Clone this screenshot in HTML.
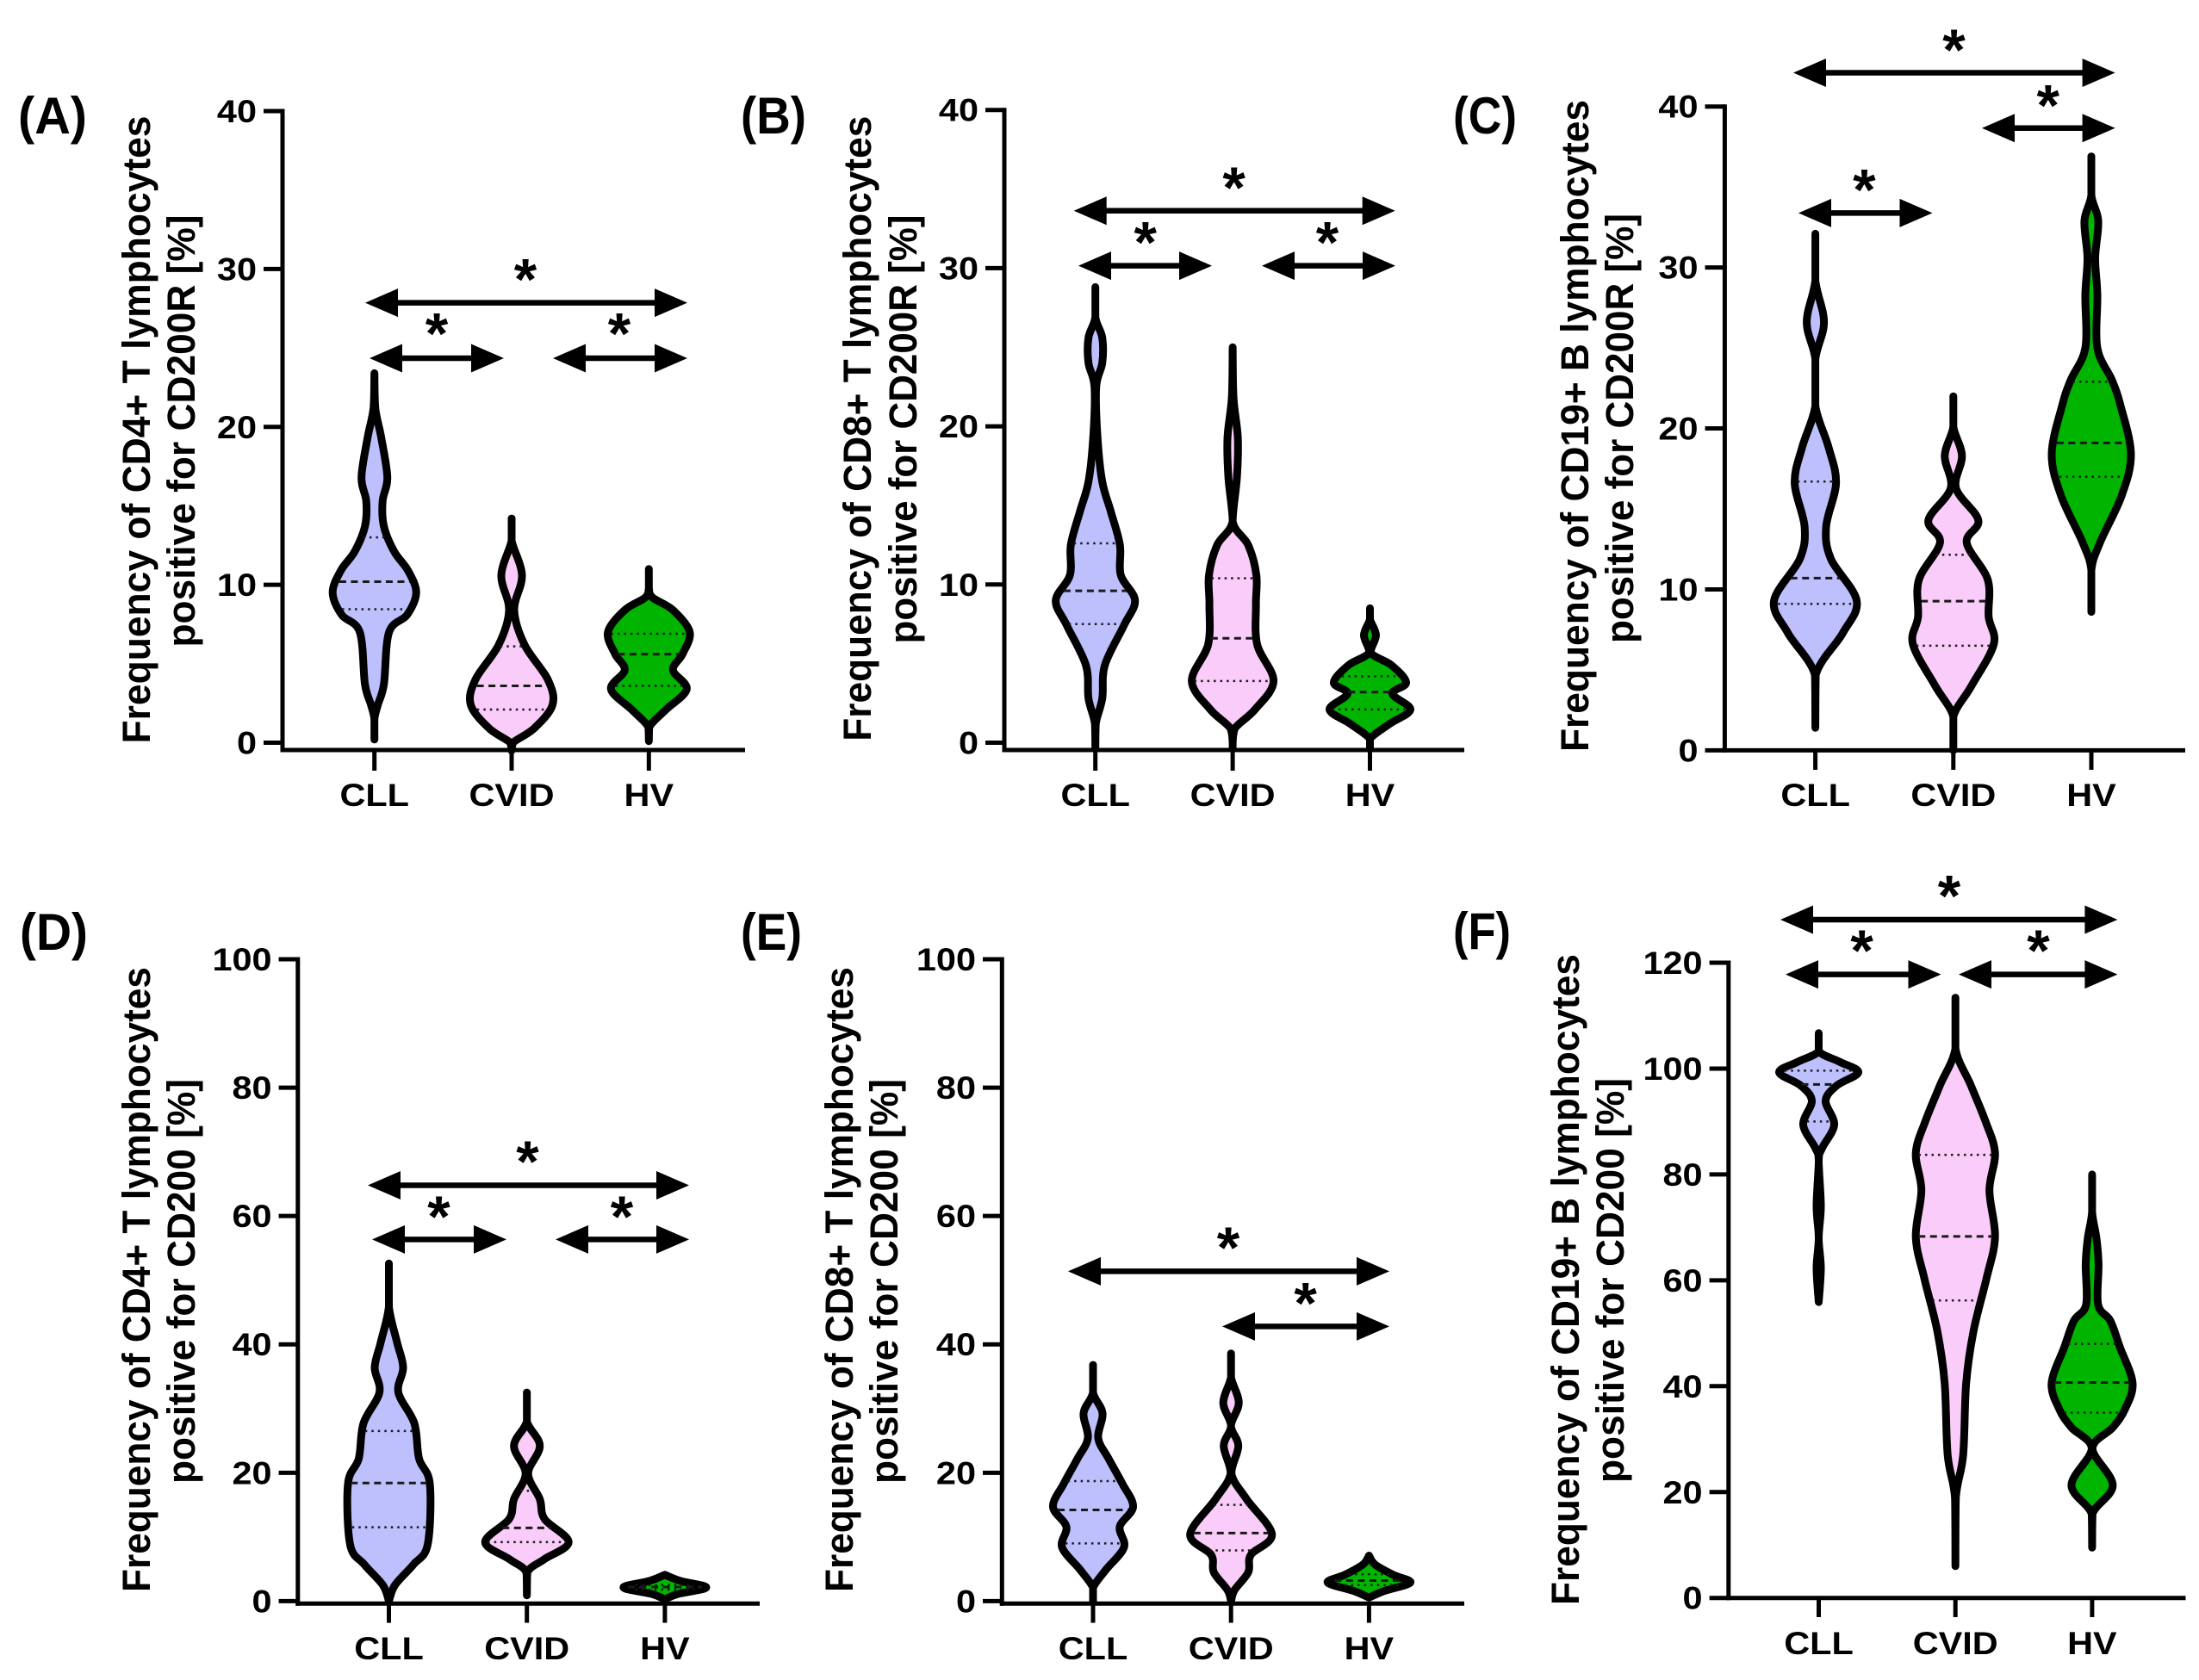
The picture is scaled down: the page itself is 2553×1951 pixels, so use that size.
<!DOCTYPE html>
<html lang="en">
<head>
<meta charset="utf-8">
<title>CD200R and CD200 frequency violin plots</title>
<style>
html,body{margin:0;padding:0;background:#fff;}
svg{display:block;}
text{font-family:"Liberation Sans",Arial,sans-serif;font-weight:bold;fill:#000;}
</style>
</head>
<body>
<svg id="figure" xmlns="http://www.w3.org/2000/svg" width="2553" height="1951" viewBox="0 0 2553 1951"></svg>
<script>
// ---- Shared categories and tick labels ----
const categories = ['CLL', 'CVID', 'HV'];
const ticks40 = [0, 10, 20, 30, 40];
const ticks100 = [0, 20, 40, 60, 80, 100];
const ticks120 = [0, 20, 40, 60, 80, 100, 120];

// ---- Panel A ----
const aCLL_values = [23.4,21.2,19.3,16.8,15.3,13.7,12.1,10.9,9.5,8.1,7,3.7,2.4,1.5,0.2];
const aCLL_density = [0,2,16,30,19,22,46,78,97,76,34,22,8,0,0];
const aCLL_quartiles = [8.45,10.2,13];
const aCVID_values = [14.2,12.8,10.6,8.4,6.2,4,2.4,0.9,0,-0.5];
const aCVID_density = [0,0,24,6,30,84,95,52,3,0];
const aCVID_quartiles = [2.1,3.6,6.1];
const aHV_values = [11,9.8,9.2,8.4,7,5.6,4.6,3.4,2.1,1,0.1];
const aHV_density = [0,0,8,56,95,78,56,88,40,1,0];
const aHV_quartiles = [3.6,5.6,6.9];

// ---- Panel B ----
const bCLL_values = [28.8,26.9,25.6,24,22.5,19.3,16.5,14.6,12.5,10.6,9,7.4,4.9,2.8,1.2,-0.4];
const bCLL_density = [0,0,16,16,2,5,16,36,57,59,92,66,22,16,1,0];
const bCLL_quartiles = [7.5,9.6,12.6];
const bCVID_values = [25,21.8,19.3,16.8,14,12.5,10.6,8.7,6.2,3.9,2.1,0.9,0,-0.4];
const bCVID_density = [0,2,12,10,0,36,55,54,57,95,52,5,0,0];
const bCVID_quartiles = [3.9,6.6,10.4];
const bHV_values = [8.5,7.8,6.8,5.7,4.9,3.8,3.1,2.1,1.2,0.25,-0.4];
const bHV_density = [0,0,14,2,50,84,52,94,46,0,0];
const bHV_quartiles = [2.1,3.2,4.2];

// ---- Panel C ----
const cCLL_values = [32.1,29.2,26.6,24.3,21.4,18.8,16.6,13.9,11.9,9.3,7.3,4.7,1.4];
const cCLL_density = [0,0,20,0,0,31,48,25,36,96,64,1,0];
const cCLL_quartiles = [9.1,10.7,16.7];
const cCVID_values = [22,20.1,18.3,16.3,14.3,12.9,10.6,8.3,6.6,4,2.1,0];
const cCVID_density = [0,0,20,6,58,31,80,82,94,42,0,0];
const cCVID_quartiles = [6.5,9.27,12.15];
const cHV_values = [36.9,34.5,32.9,30.6,28.3,25,23,21.4,18.4,15.8,12.9,11.2,8.6];
const cHV_density = [0,0,16,9,14,14,48,68,92,70,20,0,0];
const cHV_quartiles = [17,19.1,22.9];

// ---- Panel D ----
const dCLL_values = [52.6,45.9,40.3,36.4,32.5,27.7,22.2,18.3,8.8,5.7,2.5,0];
const dCLL_density = [0,0,19,33,22,59,70,95,90,57,14,0];
const dCLL_quartiles = [11.5,18.4,26.5];
const dCVID_values = [32.5,28,24.2,19.9,15.9,12.8,9.2,6.5,4.5,0.9];
const dCVID_density = [0,0,30,3,30,41,97,40,1,0];
const dCVID_quartiles = [9.2,11.4,17.2];
const dHV_values = [4.1,3.15,2.13,1.1,0.3];
const dHV_density = [0,36,96,30,0];
const dHV_quartiles = [1.8,2.2,2.5];

// ---- Panel E ----
const eCLL_values = [36.8,32.5,29.3,25.4,22.2,18.3,14.7,11.6,8.4,4.9,2.1,0];
const eCLL_density = [0,0,22,12,36,68,93,62,72,30,0,0];
const eCLL_quartiles = [9,14.2,18.7];
const eCVID_values = [38.6,34.9,30.9,27.3,24.2,19.9,15.9,10.4,7.2,4.5,1.7,0];
const eCVID_density = [0,0,18,0,17,1,36,95,46,40,8,0];
const eCVID_quartiles = [7.9,10.6,15];
const eHV_values = [7.1,5.7,4.1,2.9,1.6,0.55];
const eHV_density = [0,14,56,96,36,0];
const eHV_quartiles = [2.5,3.2,4.2];

// ---- Panel F ----
const fCLL_values = [106.7,103.3,101.3,99.3,96.8,93.9,89.4,85,82.5,74,68,62.3,55.9];
const fCLL_density = [0,0,48,92,42,16,36,8,0,5,0,5,0];
const fCLL_quartiles = [90,97,99.6];
const fCVID_values = [113.4,103.8,96.8,90,84,77,68.2,60.3,50.4,40.6,27,18.9,6];
const fCVID_density = [0,0,36,70,92,79,92,72,42,25,18,1,0];
const fCVID_quartiles = [56.2,68.3,83.7];
const fHV_values = [80,73,68,63,55.4,52.4,47.5,40.6,35.6,32.2,28.2,21.3,15.9,9.5];
const fHV_density = [0,0,10,15,14,42,64,94,76,48,1,48,1,0];
const fHV_quartiles = [35,40.7,48];

// ---- Layout (not data) ----
const fills = ['#BEC0FD', '#FACCF9', '#00B400'];
const NS = 'http://www.w3.org/2000/svg';
const root = document.getElementById('figure');

const panels = [
 {id:'a',label:'(A)',lx:21,lw:80,ly:135,axisX:328,tickL:306,top:129,zero:862.5,maxV:40,axisY:871,xEnd:865,x0:434.7,step:159.3,labY:936,xTickEnd:895,
  ticks:ticks40,t1:'Frequency of CD4+ T lymphocytes',t2:'positive for CD200R [%]',t1x:174,t1c:499,t1l:729,t2x:226,t2c:500.5,t2l:502,
  series:[[aCLL_values,aCLL_density,aCLL_quartiles],[aCVID_values,aCVID_density,aCVID_quartiles],[aHV_values,aHV_density,aHV_quartiles]],
  arrows:[[424,798,351.6,610,315.5],[429,585,416,507,378.6],[642,798,416,719,378.6]]},
 {id:'b',label:'(B)',lx:860,lw:76,ly:135,axisX:1166,tickL:1144,top:127.7,zero:862.5,maxV:40,axisY:871,xEnd:1700,x0:1271.7,step:159.4,labY:936,xTickEnd:895,
  ticks:ticks40,t1:'Frequency of CD8+ T lymphocytes',t2:'positive for CD200R [%]',t1x:1011,t1c:497.7,t1l:726,t2x:1064,t2c:498.5,t2l:498,
  series:[[bCLL_values,bCLL_density,bCLL_quartiles],[bCVID_values,bCVID_density,bCVID_quartiles],[bHV_values,bHV_density,bHV_quartiles]],
  arrows:[[1246.7,1619.7,244.8,1432.6,209],[1252,1407,308.6,1329.7,272.4],[1465,1620,308.6,1541,272.4]]},
 {id:'c',label:'(C)',lx:1687,lw:74,ly:135,axisX:2002.4,tickL:1979.5,top:123.7,zero:871.4,maxV:40,axisY:871.4,xEnd:2537,x0:2107.6,step:160.2,labY:936,xTickEnd:894,
  ticks:ticks40,t1:'Frequency of CD19+ B lymphocytes',t2:'positive for CD200R [%]',t1x:1844,t1c:494.5,t1l:757,t2x:1896,t2c:497.5,t2l:499,
  series:[[cCLL_values,cCLL_density,cCLL_quartiles],[cCVID_values,cCVID_density,cCVID_quartiles],[cHV_values,cHV_density,cHV_quartiles]],
  arrows:[[2082,2455.6,84.5,2268.5,49],[2301,2455.6,148.8,2377.7,113.3],[2088,2243.5,247.4,2164.4,211.3]]},
 {id:'d',label:'(D)',lx:23,lw:79,ly:1083,axisX:345.8,tickL:323.6,top:1114,zero:1859.4,maxV:100,axisY:1862.3,xEnd:882,x0:451.5,step:160.2,labY:1927,xTickEnd:1884.6,
  ticks:ticks100,t1:'Frequency of CD4+ T lymphocytes',t2:'positive for CD200 [%]',t1x:174,t1c:1486,t1l:726,t2x:226,t2c:1488,t2l:470,
  series:[[dCLL_values,dCLL_density,dCLL_quartiles],[dCVID_values,dCVID_density,dCVID_quartiles],[dHV_values,dHV_density,dHV_quartiles]],
  arrows:[[427,800,1376.5,612.5,1340],[432,588,1439.4,509.5,1404],[645,800,1439.4,722,1404]]},
 {id:'e',label:'(E)',lx:860,lw:71,ly:1083,axisX:1163.3,tickL:1141,top:1114,zero:1859.4,maxV:100,axisY:1862.3,xEnd:1700,x0:1269,step:160.2,labY:1927,xTickEnd:1884.6,
  ticks:ticks100,t1:'Frequency of CD8+ T lymphocytes',t2:'positive for CD200 [%]',t1x:990,t1c:1486,t1l:726,t2x:1042,t2c:1488,t2l:470,
  series:[[eCLL_values,eCLL_density,eCLL_quartiles],[eCVID_values,eCVID_density,eCVID_quartiles],[eHV_values,eHV_density,eHV_quartiles]],
  arrows:[[1240,1613,1476.4,1426,1440],[1419,1613,1540.4,1515.6,1504.6]]},
 {id:'f',label:'(F)',lx:1687,lw:67,ly:1082,axisX:2006.8,tickL:1984.6,top:1118,zero:1855.7,maxV:120,axisY:1855.7,xEnd:2537.5,x0:2111.5,step:158.7,labY:1921,xTickEnd:1878,
  ticks:ticks120,t1:'Frequency of CD19+ B lymphocytes',t2:'positive for CD200 [%]',t1x:1833,t1c:1486,t1l:756,t2x:1885,t2c:1487,t2l:470,
  series:[[fCLL_values,fCLL_density,fCLL_quartiles],[fCVID_values,fCVID_density,fCVID_quartiles],[fHV_values,fHV_density,fHV_quartiles]],
  arrows:[[2067,2458.4,1068,2263,1031.5],[2073,2253.5,1131.6,2161.6,1095],[2274,2458.4,1131.6,2366.5,1095]]}
];

function make(tag, parent, attrs) {
  const el = document.createElementNS(NS, tag);
  for (const k in attrs) el.setAttribute(k, attrs[k]);
  parent.appendChild(el);
  return el;
}

// Half width in pixels for a density reading (0-100 scale).
function widthScale(d) { return d * 0.5; }

// Linear lookup of density at a value, used to size the quartile lines.
function densityAt(values, density, v) {
  for (let i = 0; i < values.length - 1; i++) {
    if (v <= values[i] && v >= values[i + 1]) {
      const t = (values[i] - v) / (values[i] - values[i + 1]);
      return density[i] + t * (density[i + 1] - density[i]);
    }
  }
  return 0;
}

// Smooth Catmull-Rom edge through points, clamped so it never crosses the centre.
function smoothEdge(pts, cx, sign) {
  let d = '';
  for (let i = 0; i < pts.length - 1; i++) {
    const p0 = pts[Math.max(i - 1, 0)], p1 = pts[i], p2 = pts[i + 1], p3 = pts[Math.min(i + 2, pts.length - 1)];
    const clampX = x => sign > 0 ? Math.max(cx, x) : Math.min(cx, x);
    const c1x = clampX(p1[0] + (p2[0] - p0[0]) / 6), c1y = p1[1] + (p2[1] - p0[1]) / 6;
    const c2x = clampX(p2[0] - (p3[0] - p1[0]) / 6), c2y = p2[1] - (p3[1] - p1[1]) / 6;
    d += ' C' + c1x.toFixed(1) + ' ' + c1y.toFixed(1) + ' ' + c2x.toFixed(1) + ' ' + c2y.toFixed(1) + ' ' + p2[0].toFixed(1) + ' ' + p2[1].toFixed(1);
  }
  return d;
}

function drawPanel(p) {
  const yScale = v => p.zero - (p.zero - p.top) * v / p.maxV;
  const xScale = i => p.x0 + i * p.step;

  const g = make('g', root, {});
  
  

  const lab = make('text', g, {x: p.lx, y: p.ly + 20, 'font-size': 60, textLength: p.lw, lengthAdjust: 'spacingAndGlyphs'});
  
  
  lab.textContent = p.label;

  const t1 = make('text', g, {transform: 'translate(' + p.t1x + ',' + p.t1c + ') rotate(-90)', 'text-anchor': 'middle', 'font-size': 45, textLength: p.t1l, lengthAdjust: 'spacingAndGlyphs'});
  
  
  t1.textContent = p.t1;

  const t2 = make('text', g, {transform: 'translate(' + p.t2x + ',' + p.t2c + ') rotate(-90)', 'text-anchor': 'middle', 'font-size': 45, textLength: p.t2l, lengthAdjust: 'spacingAndGlyphs'});
  
  
  t2.textContent = p.t2;

  // Violins
  p.series.forEach((s, i) => {
    const cx = xScale(i);
    const values = s[0], density = s[1], quart = s[2];
    const vg = make('g', g, {});
    
    
    const right = values.map((v, k) => [cx + widthScale(density[k]), yScale(v)]);
    const left = values.map((v, k) => [cx - widthScale(density[k]), yScale(v)]).reverse();
    const d = 'M' + right[0][0].toFixed(1) + ' ' + right[0][1].toFixed(1) + smoothEdge(right, cx, 1) + smoothEdge(left, cx, -1) + ' Z';
    const body = make('path', vg, {d: d, fill: fills[i], stroke: '#000', 'stroke-width': 9, 'stroke-linejoin': 'round', 'stroke-linecap': 'round'});
    
    
    quart.forEach((q, k) => {
      const hw = Math.max(0, widthScale(densityAt(values, density, q)) - 3);
      const isMedian = k === 1;
      const line = make('line', vg, {x1: cx - hw, x2: cx + hw, y1: yScale(q), y2: yScale(q), stroke: '#1a1a1a', 'stroke-width': isMedian ? 3 : 2.5, 'stroke-dasharray': isMedian ? '8 5.5' : '2.5 5'});
      
      
    });
  });

  // Axes
  const yAxis = make('line', g, {x1: p.axisX, x2: p.axisX, y1: p.top - 2.5, y2: p.axisY + 2.5, stroke: '#000', 'stroke-width': 5});
  
  
  const xAxis = make('line', g, {x1: p.axisX - 2.5, x2: p.xEnd, y1: p.axisY, y2: p.axisY, stroke: '#000', 'stroke-width': 5});
  
  

  p.ticks.forEach(t => {
    const tk = make('line', g, {x1: p.tickL, x2: p.axisX, y1: yScale(t), y2: yScale(t), stroke: '#000', 'stroke-width': 5});
    
    
    const tx = make('text', g, {transform: 'translate(' + (p.tickL - 8) + ',' + (yScale(t) + 13) + ') scale(1.12,1)', 'text-anchor': 'end', 'font-size': 37});
    
    
    tx.textContent = t;
  });

  categories.forEach((c, i) => {
    const tk = make('line', g, {x1: xScale(i), x2: xScale(i), y1: p.axisY, y2: p.xTickEnd, stroke: '#000', 'stroke-width': 5});
    
    
    const tx = make('text', g, {transform: 'translate(' + xScale(i) + ',' + p.labY + ') scale(1.12,1)', 'text-anchor': 'middle', 'font-size': 37});
    
    
    tx.textContent = c;
  });

  // Significance arrows with asterisks
  p.arrows.forEach(a => {
    const x1 = a[0], x2 = a[1], y = a[2], hl = 38, hh = 16.5;
    const ar = make('g', g, {});
    
    
    make('line', ar, {x1: x1 + hl - 2, x2: x2 - hl + 2, y1: y, y2: y, stroke: '#000', 'stroke-width': 6.5});
    make('polygon', ar, {points: x1 + ',' + y + ' ' + (x1 + hl) + ',' + (y - hh) + ' ' + (x1 + hl) + ',' + (y + hh), fill: '#000'});
    make('polygon', ar, {points: x2 + ',' + y + ' ' + (x2 - hl) + ',' + (y - hh) + ' ' + (x2 - hl) + ',' + (y + hh), fill: '#000'});
    const st = make('text', g, {x: a[3], y: a[4] + 32, 'text-anchor': 'middle', 'font-size': 68});
    
    
    st.textContent = '*';
  });
}

panels.forEach(drawPanel);
</script>
</body>
</html>
